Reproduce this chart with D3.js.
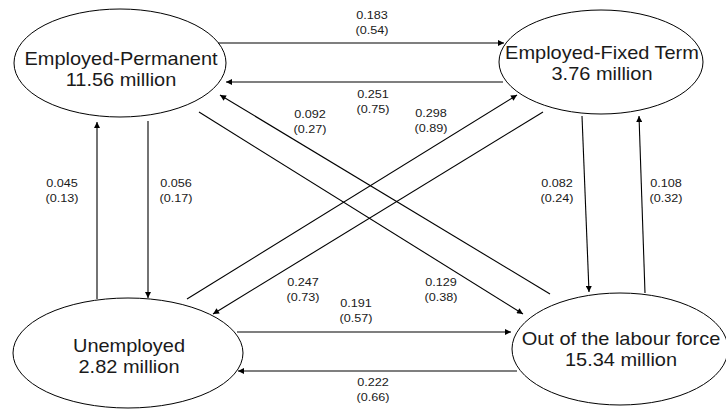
<!DOCTYPE html>
<html>
<head>
<meta charset="utf-8">
<script src="https://cdn.jsdelivr.net/npm/d3@7"></script>
<style>
  html, body { margin: 0; padding: 0; background: #fff; }
  svg { display: block; }
  text { font-family: "Liberation Sans", Arial, sans-serif; fill: #1a1a1a; }
</style>
</head>
<body>
<svg id="chart" width="726" height="409"></svg>
<script>
// ---- data ----
const nodeNames  = ["Employed-Permanent", "Employed-Fixed Term", "Unemployed", "Out of the labour force"];
const nodeStocks = [11.56, 3.76, 2.82, 15.34];           // million
const flowFrom   = [0, 1, 3, 0, 2, 1, 2, 0, 1, 3, 2, 3];
const flowTo     = [1, 0, 0, 3, 1, 2, 0, 2, 3, 1, 3, 2];
const flowRates  = [0.183, 0.251, 0.092, 0.129, 0.298, 0.247, 0.045, 0.056, 0.082, 0.108, 0.191, 0.222];
const flowCounts = [0.54, 0.75, 0.27, 0.38, 0.89, 0.73, 0.13, 0.17, 0.24, 0.32, 0.57, 0.66];

// ---- layout (pixel positions of the diagram) ----
const nodeLayout = [
  {cx: 120, cy: 63,  rx: 106, ry: 54, ty: 65},
  {cx: 601, cy: 62,  rx: 102, ry: 52, ty: 59},
  {cx: 128, cy: 353, rx: 115, ry: 55, ty: 352},
  {cx: 620, cy: 349, rx: 108, ry: 56, ty: 345}
];
const flowLayout = [
  {p: [218, 43, 504, 43],   l: [372, 15]},
  {p: [503, 82, 226, 82],   l: [373, 94]},
  {p: [550, 294, 220, 95],  l: [310, 114]},
  {p: [199, 112, 523, 314], l: [441, 282]},
  {p: [187, 299, 517, 95],  l: [431, 113]},
  {p: [543, 112, 213, 314], l: [303, 282]},
  {p: [97, 299, 97, 122],   l: [62, 183]},
  {p: [148, 121, 148, 298], l: [176, 183]},
  {p: [582, 116, 589, 292], l: [557, 183]},
  {p: [645, 293, 639, 116], l: [666, 183]},
  {p: [237, 332, 511, 332], l: [356, 303]},
  {p: [517, 371, 238, 371], l: [373, 382]}
];

const svg = d3.select("#chart");

// arrowhead
svg.append("defs").append("marker")
  .attr("id", "arrow")
  .attr("viewBox", "0 0 10 10")
  .attr("refX", 10).attr("refY", 5)
  .attr("markerWidth", 7).attr("markerHeight", 6)
  .attr("markerUnits", "userSpaceOnUse")
  .attr("orient", "auto")
  .append("path").attr("d", "M0,0 L10,5 L0,10 Z").attr("fill", "#000");

const nodes = nodeNames.map((name, i) => ({name, stock: nodeStocks[i], ...nodeLayout[i]}));
const flows = flowRates.map((r, i) => ({from: flowFrom[i], to: flowTo[i], rate: r, count: flowCounts[i], ...flowLayout[i]}));

// flows
svg.append("g").selectAll("line").data(flows).join("line")
  .attr("x1", d => d.p[0]).attr("y1", d => d.p[1])
  .attr("x2", d => d.p[2]).attr("y2", d => d.p[3])
  .attr("stroke", "#000").attr("stroke-width", 1.1)
  .attr("marker-end", "url(#arrow)");

const fmt3 = d3.format(".3f"), fmt2 = d3.format(".2f");
const lab = svg.append("g").selectAll("g").data(flows).join("g")
  .attr("transform", d => `translate(${d.l[0]},${d.l[1] + 4}) scale(1.1,1)`);
lab.append("text").attr("text-anchor", "middle").attr("font-size", 11.5)
  .text(d => fmt3(d.rate));
lab.append("text").attr("text-anchor", "middle").attr("font-size", 11.5).attr("y", 15)
  .text(d => `(${fmt2(d.count)})`);

// nodes
const ng = svg.append("g").selectAll("g").data(nodes).join("g");
ng.append("ellipse")
  .attr("cx", d => d.cx).attr("cy", d => d.cy)
  .attr("rx", d => d.rx).attr("ry", d => d.ry)
  .attr("fill", "none").attr("stroke", "#000").attr("stroke-width", 1);
const nt = ng.append("g").attr("transform", d => `translate(${d.cx + 1},${d.ty}) scale(1.11,1)`);
nt.append("text").attr("text-anchor", "middle").attr("font-size", 18).text(d => d.name);
nt.append("text").attr("text-anchor", "middle").attr("font-size", 18).attr("y", 21)
  .text(d => `${fmt2(d.stock)} million`);
</script>
</body>
</html>
